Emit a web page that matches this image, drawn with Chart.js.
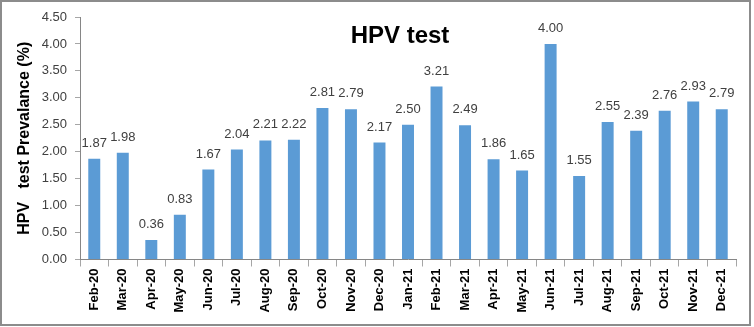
<!DOCTYPE html>
<html>
<head>
<meta charset="utf-8">
<script src="https://cdn.jsdelivr.net/npm/chart.js@4/dist/chart.umd.min.js"></script>
<style>
  body { margin: 0; background: #fff; }
  #wrap { position: relative; width: 754px; height: 327px; }
  #frame { position: absolute; left: 0; top: 0; width: 751px; height: 326px; box-sizing: border-box; border: 2px solid #8c8c8c; pointer-events: none; }
</style>
</head>
<body>
<div id="wrap">
  <canvas id="hpv_chart" width="754" height="327"></canvas>
  <div id="frame"></div>
</div>
<script>
// chart data
const months = ["Feb-20", "Mar-20", "Apr-20", "May-20", "Jun-20", "Jul-20", "Aug-20", "Sep-20",
  "Oct-20", "Nov-20", "Dec-20", "Jan-21", "Feb-21", "Mar-21", "Apr-21", "May-21",
  "Jun-21", "Jul-21", "Aug-21", "Sep-21", "Oct-21", "Nov-21", "Dec-21"];
const prevalence = [1.87, 1.98, 0.36, 0.83, 1.67, 2.04, 2.21, 2.22, 2.81, 2.79, 2.17, 2.50,
  3.21, 2.49, 1.86, 1.65, 4.00, 1.55, 2.55, 2.39, 2.76, 2.93, 2.79];

const ctx = document.getElementById("hpv_chart").getContext("2d");

// value labels over each bar + the chart title
const valueLabels = {
  id: "valueLabels",
  afterDatasetsDraw(chart) {
    const c = chart.ctx;
    const meta = chart.getDatasetMeta(0);
    c.save();
    c.font = "13px 'Liberation Sans', Arial, sans-serif";
    c.fillStyle = "#404040";
    c.textAlign = "center";
    c.textBaseline = "bottom";
    meta.data.forEach((bar, i) => {
      c.fillText(prevalence[i].toFixed(2), bar.x, bar.y - 9);
    });
    c.font = "bold 24px 'Liberation Sans', Arial, sans-serif";
    c.fillStyle = "#000";
    c.textBaseline = "middle";
    c.fillText("HPV test", 400, 36);
    c.restore();
  },
};

new Chart(ctx, {
  type: "bar",
  data: {
    labels: months,
    datasets: [
      {
        data: prevalence,
        backgroundColor: "#5B9BD5",
        barPercentage: 0.84,
        categoryPercentage: 0.5,
      },
    ],
  },
  options: {
    responsive: false,
    animation: false,
    layout: { padding: { top: 17, right: 18, left: 15, bottom: 0 } },
    plugins: {
      legend: { display: false },
      tooltip: { enabled: false },
    },
    scales: {
      x: {
        afterFit: (scale) => { scale.height = 67.5; },
        grid: { drawOnChartArea: false, tickLength: 7, color: "#a6a6a6" },
        border: { color: "#868686" },
        ticks: {
          minRotation: 90,
          maxRotation: 90,
          autoSkip: false,
          color: "#000",
          padding: 2,
          font: { family: "'Liberation Sans', Arial, sans-serif", size: 13, weight: "bold" },
        },
      },
      y: {
        min: 0,
        max: 4.5,
        afterFit: (scale) => { scale.width = 65; },
        grid: { drawOnChartArea: false, tickLength: 5, color: "#a6a6a6" },
        border: { color: "#868686" },
        ticks: {
          stepSize: 0.5,
          color: "#404040",
          padding: 8,
          font: { family: "'Liberation Sans', Arial, sans-serif", size: 13 },
          callback: (v) => Number(v).toFixed(2),
        },
        title: {
          display: true,
          text: "HPV   test Prevalance (%)",
          color: "#000",
          padding: { top: 0, bottom: 4 },
          font: { family: "'Liberation Sans', Arial, sans-serif", size: 16, weight: "bold" },
        },
      },
    },
  },
  plugins: [valueLabels],
});
</script>
</body>
</html>
